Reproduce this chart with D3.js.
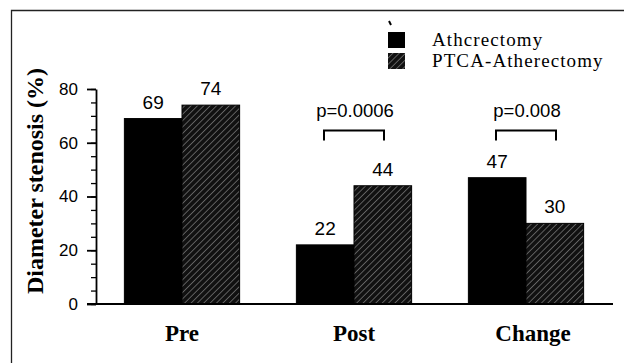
<!DOCTYPE html>
<head>
  <meta charset="utf-8">
  <script src="https://d3js.org/d3.v7.min.js"></script>
  <style>
    body { margin: 0; background: #fff; }
    .tick text { font-family: "Liberation Sans", Arial, sans-serif; font-size: 17px; fill: #000; }
  </style>
</head>
<body>
  <div id="chart"></div>
  <script>
    // data
    var categories = ["Pre", "Post", "Change"];
    var seriesNames = ["Athcrectomy", "PTCA-Atherectomy"];
    var atherectomy = [69, 22, 47];
    var ptcaAtherectomy = [74, 44, 30];
    var yTicks = [0, 20, 40, 60, 80];
    var pLabels = [null, "p=0.0006", "p=0.008"];

    var width = 624, height = 363;
    var margin = { top: 89, right: 14, bottom: 59, left: 96 };

    var svg = d3.select("#chart").append("svg")
      .attr("width", width)
      .attr("height", height);

    // hatch pattern for second series
    var defs = svg.append("defs");
    var pat = defs.append("pattern")
      .attr("id", "hatch")
      .attr("patternUnits", "userSpaceOnUse")
      .attr("width", 4.5).attr("height", 4.5)
      .attr("patternTransform", "rotate(45)");
    pat.append("rect").attr("width", 4.5).attr("height", 4.5).attr("fill", "#111");
    pat.append("line")
      .attr("x1", 0).attr("y1", 0).attr("x2", 0).attr("y2", 4.5)
      .attr("stroke", "#b8b8b8").attr("stroke-width", 0.9);

    // frame (scanned page border)
    svg.append("path")
      .attr("d", "M11.5," + height + "V10.5H" + width)
      .attr("fill", "none").attr("stroke", "#222").attr("stroke-width", 1.3);

    var x = d3.scaleBand()
      .domain(categories)
      .range([margin.left, 612])
      .paddingInner(0.33)
      .paddingOuter(0.165);

    var xs = d3.scaleBand()
      .domain(seriesNames)
      .range([0, x.bandwidth()]);

    var y = d3.scaleLinear()
      .domain([0, 80])
      .range([height - margin.bottom, margin.top]);

    var rows = categories.map(function(c, i) {
      return { cat: c, values: [atherectomy[i], ptcaAtherectomy[i]] };
    });

    var g = svg.selectAll(".grp")
      .data(rows)
      .enter().append("g")
      .attr("transform", function(d) { return "translate(" + x(d.cat) + ",0)"; });

    g.selectAll("rect")
      .data(function(d) { return d.values.map(function(v, j) { return { s: seriesNames[j], v: v, j: j }; }); })
      .enter().append("rect")
      .attr("x", function(d) { return xs(d.s); })
      .attr("y", function(d) { return y(d.v); })
      .attr("width", xs.bandwidth())
      .attr("height", function(d) { return y(0) - y(d.v); })
      .attr("fill", function(d) { return d.j === 0 ? "#000" : "url(#hatch)"; })
      .attr("stroke", "#000").attr("stroke-width", 1);

    g.selectAll(".val")
      .data(function(d) { return d.values.map(function(v, j) { return { s: seriesNames[j], v: v }; }); })
      .enter().append("text")
      .attr("class", "val")
      .attr("x", function(d) { return xs(d.s) + xs.bandwidth() / 2; })
      .attr("y", function(d) { return y(d.v) - 10; })
      .attr("text-anchor", "middle")
      .style("font-family", "Liberation Sans, Arial, sans-serif")
      .style("font-size", "19px")
      .text(function(d) { return d.v; });

    // significance brackets
    rows.forEach(function(d, i) {
      if (!pLabels[i]) return;
      var cx = x(d.cat) + x.bandwidth() / 2;
      var x0 = cx - 30, x1 = cx + 30;
      var top = 130.5;
      svg.append("path")
        .attr("d", "M" + x0 + "," + (top + 10) + "V" + top + "H" + x1 + "V" + (top + 10))
        .attr("fill", "none").attr("stroke", "#000").attr("stroke-width", 2);
      svg.append("text")
        .attr("x", cx + 1).attr("y", 117)
        .attr("text-anchor", "middle")
        .style("font-family", "Liberation Sans, Arial, sans-serif")
        .style("font-size", "18.5px")
        .text(pLabels[i]);
    });

    // y axis with minor ticks
    svg.append("g")
      .attr("transform", "translate(" + margin.left + ",0)")
      .call(d3.axisLeft(y).tickValues(d3.range(0, 81, 5)).tickSize(5).tickFormat(""))
      .call(function(a) { a.select(".domain").remove(); a.selectAll("line").attr("stroke-width", 1.3); });

    svg.append("g")
      .attr("transform", "translate(" + margin.left + ",0)")
      .call(d3.axisLeft(y).tickValues(yTicks).tickSize(9).tickSizeOuter(0).tickPadding(9))
      .call(function(a) {
        a.select(".domain").attr("stroke-width", 1.8);
        a.selectAll("line").attr("stroke-width", 1.8);
      });

    // baseline
    svg.append("line")
      .attr("x1", margin.left - 9).attr("x2", 613)
      .attr("y1", y(0)).attr("y2", y(0))
      .attr("stroke", "#000").attr("stroke-width", 1.8);

    // category labels
    svg.selectAll(".cat")
      .data(categories)
      .enter().append("text")
      .attr("x", function(d) { return x(d) + x.bandwidth() / 2 + (d === "Change" ? 7 : 0); })
      .attr("y", 341)
      .attr("text-anchor", "middle")
      .style("font-family", "Liberation Serif, Times New Roman, serif")
      .style("font-weight", "bold")
      .style("font-size", "23px")
      .text(function(d) { return d; });

    // y axis title
    svg.append("text")
      .attr("transform", "translate(43,181) rotate(-90)")
      .attr("text-anchor", "middle")
      .style("font-family", "Liberation Serif, Times New Roman, serif")
      .style("font-weight", "bold")
      .style("font-size", "24px")
      .text("Diameter stenosis (%)");

    // legend
    var leg = svg.append("g").attr("transform", "translate(388,32)");
    leg.append("path").attr("d", "M1,-11L3,-7").attr("stroke", "#000").attr("stroke-width", 2);
    seriesNames.forEach(function(s, i) {
      leg.append("rect")
        .attr("x", 0).attr("y", i * 21)
        .attr("width", 17).attr("height", 16)
        .attr("fill", i === 0 ? "#000" : "url(#hatch)");
      leg.append("text")
        .attr("x", 44).attr("y", i * 21 + 14)
        .style("font-family", "Liberation Serif, Times New Roman, serif")
        .style("font-size", "19px")
        .style("letter-spacing", "1.1px")
        .text(s);
    });
  </script>
</body>
